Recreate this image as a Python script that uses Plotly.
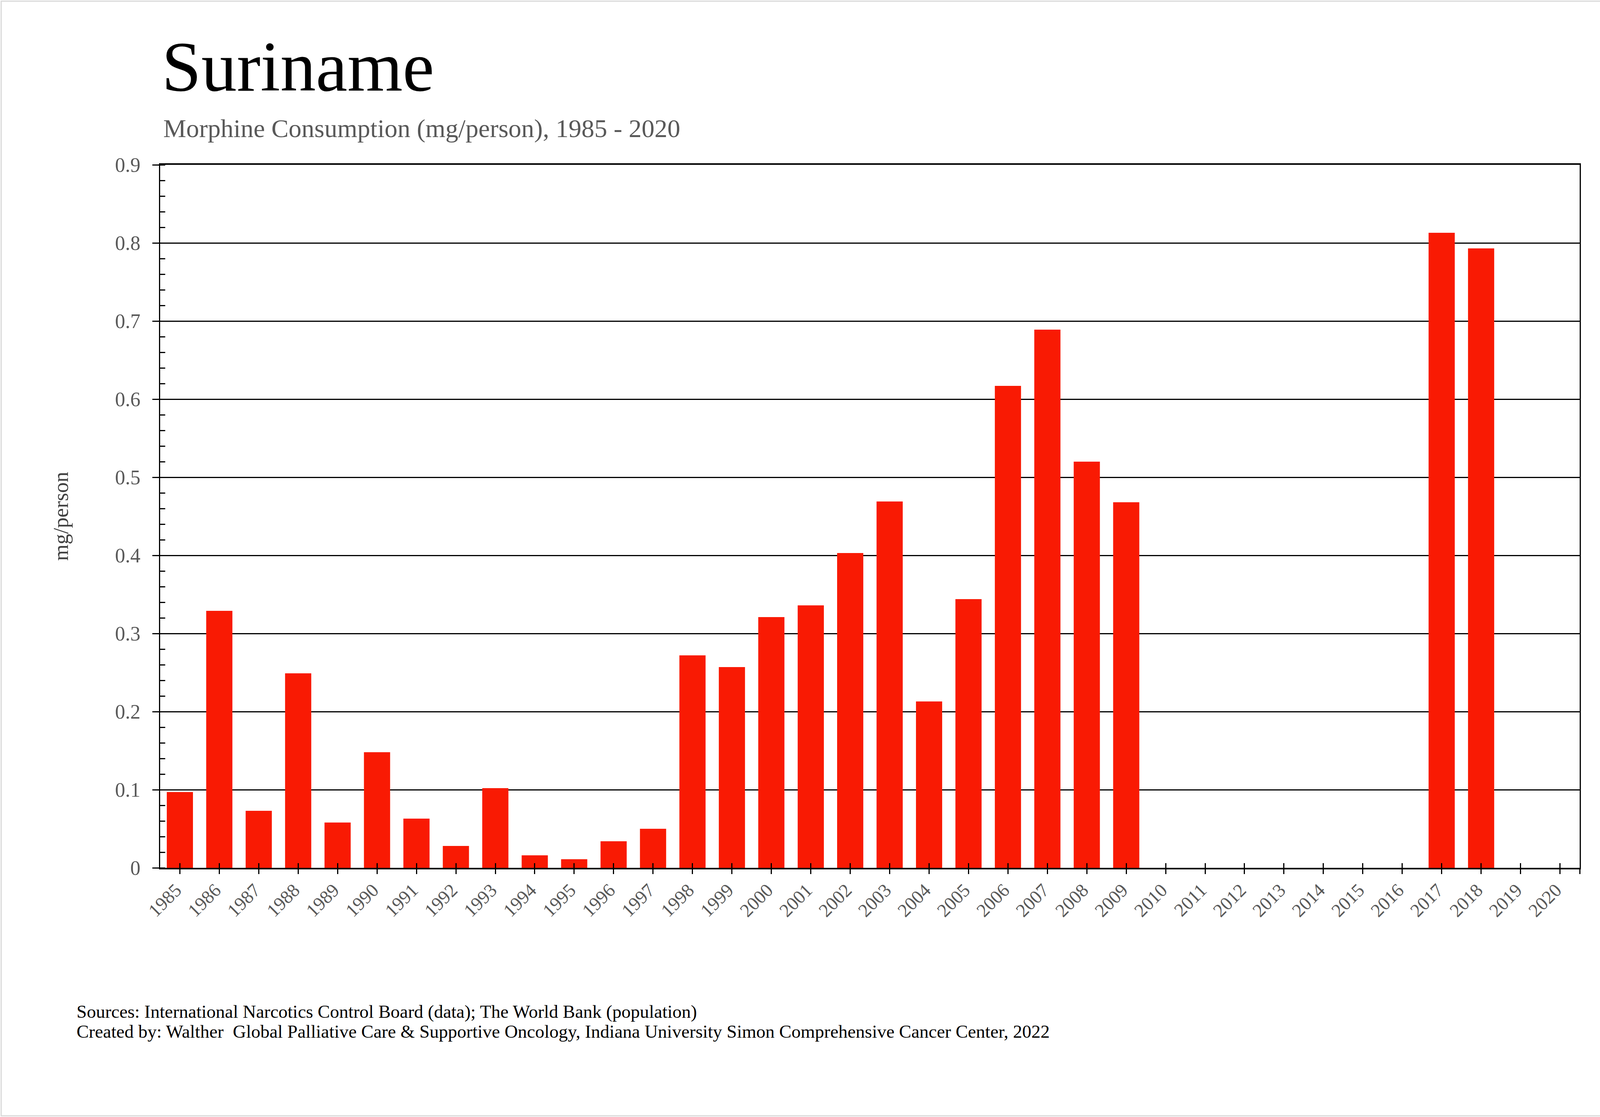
import plotly.graph_objects as go

years = list(range(1985, 2021))
values = [0.097, 0.329, 0.073, 0.249, 0.058, 0.148, 0.063, 0.028, 0.102, 0.016,
          0.011, 0.034, 0.050, 0.272, 0.257, 0.321, 0.336, 0.403, 0.469, 0.213,
          0.344, 0.617, 0.689, 0.520, 0.468, None, None, None, None, None,
          None, None, 0.813, 0.793, None, None]
tick_labels = [str(y) for y in years]
y_ticks = [0, 0.1, 0.2, 0.3, 0.4, 0.5, 0.6, 0.7, 0.8, 0.9]
y_tick_labels = ["0", "0.1", "0.2", "0.3", "0.4", "0.5", "0.6", "0.7", "0.8", "0.9"]

title_text = "Suriname"
subtitle_text = "Morphine Consumption (mg/person), 1985 - 2020"
y_title = "mg/person"
footer_lines = [
    "Sources: International Narcotics Control Board (data); The World Bank (population)",
    "Created by: Walther  Global Palliative Care & Supportive Oncology, Indiana University Simon Comprehensive Cancer Center, 2022",
]

W, H = 4221, 2860
L, R, T, B = 410, 4044, 422, 2222
pw, ph = R - L, B - T

def px(x):
    return (x - L) / pw

def py(y):
    return (B - y) / ph

FONT = "Liberation Serif"
GRAY = "#595959"

x_range = [years[0] - 0.5, years[-1] + 0.5]
x_tickvals = years + [x_range[1]]
x_ticktext = tick_labels + [""]

fig = go.Figure()
fig.add_trace(go.Bar(
    x=years, y=values, marker=dict(color="#F91A03", line=dict(width=0)),
    showlegend=False, hoverinfo="x+y",
))
# helper trace for the inside half of the x ticks
fig.add_trace(go.Scatter(x=[years[0]], y=[0], xaxis="x2", mode="markers",
                         marker=dict(opacity=0), showlegend=False, hoverinfo="skip"))

fig.update_layout(
    width=W, height=H,
    margin=dict(l=L, r=W - R, t=T, b=H - B, pad=0),
    paper_bgcolor="white", plot_bgcolor="white",
    bargap=0.336,
    font=dict(family=FONT, color=GRAY),
    xaxis=dict(
        range=x_range, tickmode="array", tickvals=x_tickvals, ticktext=x_ticktext,
        tickangle=-45, tickfont=dict(family=FONT, size=48, color=GRAY),
        ticks="outside", ticklen=12, tickwidth=3, tickcolor="black",
        showline=True, linecolor="black", linewidth=4, mirror=True,
        showgrid=False, zeroline=False, fixedrange=True,
        ticklabelshift=-10, ticklabelstandoff=-6,
    ),
    xaxis2=dict(
        range=x_range, overlaying="x", anchor="y", side="bottom",
        tickmode="array", tickvals=years, showticklabels=False,
        ticks="inside", ticklen=12, tickwidth=3, tickcolor="black",
        showline=False, showgrid=False, zeroline=False,
    ),
    yaxis=dict(
        range=[0, 0.9], tickmode="array", tickvals=y_ticks, ticktext=y_tick_labels,
        tickfont=dict(family=FONT, size=52, color=GRAY),
        ticks="outside", ticklen=17, tickwidth=3, tickcolor="black",
        minor=dict(ticks="inside", ticklen=13, tickwidth=3, tickcolor="black", dtick=0.02, tick0=0,
                   showgrid=False),
        showline=True, linecolor="black", linewidth=3, mirror=True,
        showgrid=True, gridcolor="black", gridwidth=3, zeroline=False,
        ticklabelstandoff=20,
    ),
)

annotations = [
    dict(text=title_text, x=px(412), y=py(170), xref="paper", yref="paper",
         xanchor="left", yanchor="middle", showarrow=False,
         font=dict(family=FONT, size=182, color="black")),
    dict(text=subtitle_text, x=px(416), y=py(329), xref="paper", yref="paper",
         xanchor="left", yanchor="middle", showarrow=False,
         font=dict(family=FONT, size=66, color=GRAY)),
    dict(text=y_title, x=px(156), y=0.5, xref="paper", yref="paper",
         xanchor="center", yanchor="middle", textangle=-90, showarrow=False,
         font=dict(family=FONT, size=54, color="#404040")),
    dict(text=footer_lines[0], x=px(194), y=py(2590), xref="paper", yref="paper",
         xanchor="left", yanchor="middle", showarrow=False,
         font=dict(family=FONT, size=47, color="black")),
    dict(text=footer_lines[1], x=px(194), y=py(2641), xref="paper", yref="paper",
         xanchor="left", yanchor="middle", showarrow=False,
         font=dict(family=FONT, size=47, color="black")),
]
fig.update_layout(annotations=annotations)

fig.add_shape(type="rect", xref="paper", yref="paper",
              x0=px(3), x1=px(W - 3), y0=py(H - 3), y1=py(3),
              line=dict(color="#D9D9D9", width=3), fillcolor="rgba(0,0,0,0)", layer="below")

fig.write_html("out.html", config={"displayModeBar": False},
               post_script="document.body.style.margin='0';document.body.style.overflow='hidden';")
